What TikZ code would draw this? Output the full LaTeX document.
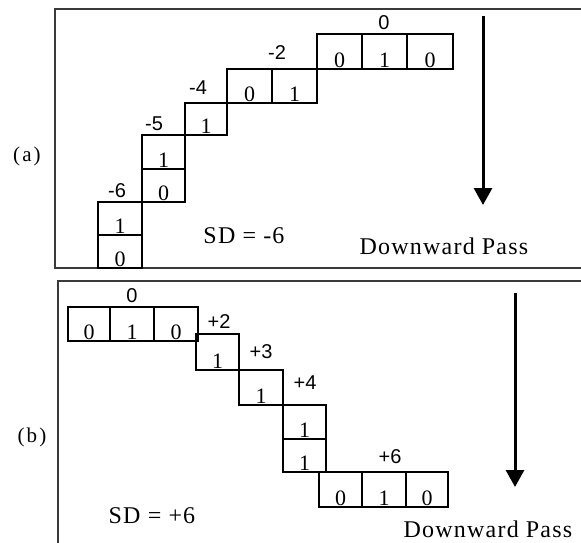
\documentclass[tikz,border=0pt]{standalone}
\usepackage{fontspec}
\setmainfont{Liberation Serif}
\newfontfamily\signfont{Liberation Sans}
\newfontfamily\spacedfont{Liberation Serif}[LetterSpace=5]
\newfontfamily\partfont{Liberation Serif}[LetterSpace=10]
\usetikzlibrary{arrows.meta,fit}
\definecolor{framegray}{HTML}{3A3A3A}
\begin{document}
\begin{tikzpicture}[x=1pt,y=-1pt,
  panel/.style={draw=framegray,line width=1.8pt},
  cell/.style={draw,line width=1.3pt,inner sep=0pt},
  digit/.style={font=\fontsize{22}{22}\selectfont,anchor=south,inner sep=0pt,yshift=1.5pt},
  sumlabel/.style={font=\signfont\fontsize{20}{20}\selectfont,inner sep=0pt},
  sdlabel/.style={font=\spacedfont\fontsize{24}{24}\selectfont,inner sep=0pt},
  passlabel/.style={font=\spacedfont\fontsize{24}{24}\selectfont,inner sep=0pt},
  partlabel/.style={font=\partfont\fontsize{21}{21}\selectfont,inner sep=0pt},
  passarrow/.style={line width=3pt,-{Triangle[width=18pt,length=17pt]}}]
\useasboundingbox (0,0) rectangle (581,543);
\clip (0,0) rectangle (581,543);

% ---------- part (a) ----------
\draw[panel] (55,9) rectangle (620,268);
\node[partlabel] (pa) at (27,156) {(a)};

% bottom column
\node[cell, fit={(98,202) (142,235)}] (a1) {};
\node[cell, fit={(98,235) (142,268)}] (a2) {};
\node[digit] at (a1.south) {1};
\node[digit] at (a2.south) {0};
\node[sumlabel] (sa1) at (117,191) {-6};
% second column
\node[cell, fit={(142,135) (185,169)}] (b1) {};
\node[cell, fit={(142,169) (185,202)}] (b2) {};
\node[digit] at (b1.south) {1};
\node[digit] at (b2.south) {0};
\node[sumlabel] (sa2) at (154,124) {-5};
% single step
\node[cell, fit={(185,103) (227,135)}] (c1) {};
\node[digit] at (c1.south) {1};
\node[sumlabel] (sa3) at (198,88) {-4};
% two-cell step
\node[cell, fit={(227,69) (272,103)}] (d1) {};
\node[cell, fit={(272,69) (317,103)}] (d2) {};
\node[digit] at (d1.south) {0};
\node[digit] at (d2.south) {1};
\node[sumlabel] (sa4) at (277,53) {-2};
% top row
\node[cell, fit={(317,34) (362,69)}] (e1) {};
\node[cell, fit={(362,34) (407,69)}] (e2) {};
\node[cell, fit={(407,34) (453,69)}] (e3) {};
\node[digit] at (e1.south) {0};
\node[digit] at (e2.south) {1};
\node[digit] at (e3.south) {0};
\node[sumlabel] (sa5) at (384,23) {0};

\node[sdlabel] (sda) at (244,236) {SD = -6};
\coordinate (arrA0) at (483,16);
\coordinate (arrA1) at (483,205);
\draw[passarrow] (arrA0) -- (arrA1);
\node[passlabel] (pssa) at (444,246) {Downward Pass};

% ---------- part (b) ----------
\draw[panel] (58,281) rectangle (620,580);
\node[partlabel] (pb) at (32,437) {(b)};

% top row
\node[cell, fit={(68,307) (110,341)}] (f1) {};
\node[cell, fit={(110,307) (154,341)}] (f2) {};
\node[cell, fit={(154,307) (198,341)}] (f3) {};
\node[digit] at (f1.south) {0};
\node[digit] at (f2.south) {1};
\node[digit] at (f3.south) {0};
\node[sumlabel] (sb1) at (132,296) {0};
% first step down
\node[cell, fit={(196,334) (239,370)}] (g1) {};
\node[digit] at (g1.south) {1};
\node[sumlabel] (sb2) at (219,322) {+2};
% second step down
\node[cell, fit={(239,370) (283,405)}] (h1) {};
\node[digit] at (h1.south) {1};
\node[sumlabel] (sb3) at (261,352) {+3};
% column
\node[cell, fit={(283,405) (326,439)}] (k1) {};
\node[cell, fit={(283,439) (326,472)}] (k2) {};
\node[digit] at (k1.south) {1};
\node[digit] at (k2.south) {1};
\node[sumlabel] (sb4) at (305,383) {+4};
% bottom row
\node[cell, fit={(319,472) (362,507)}] (m1) {};
\node[cell, fit={(362,472) (406,507)}] (m2) {};
\node[cell, fit={(406,472) (448,507)}] (m3) {};
\node[digit] at (m1.south) {0};
\node[digit] at (m2.south) {1};
\node[digit] at (m3.south) {0};
\node[sumlabel] (sb5) at (390,457) {+6};

\node[sdlabel] (sdb) at (152,516) {SD = +6};
\coordinate (arrB0) at (515,293);
\coordinate (arrB1) at (515,487);
\draw[passarrow] (arrB0) -- (arrB1);
\node[passlabel] (pssb) at (488,529) {Downward Pass};
\end{tikzpicture}
\end{document}
